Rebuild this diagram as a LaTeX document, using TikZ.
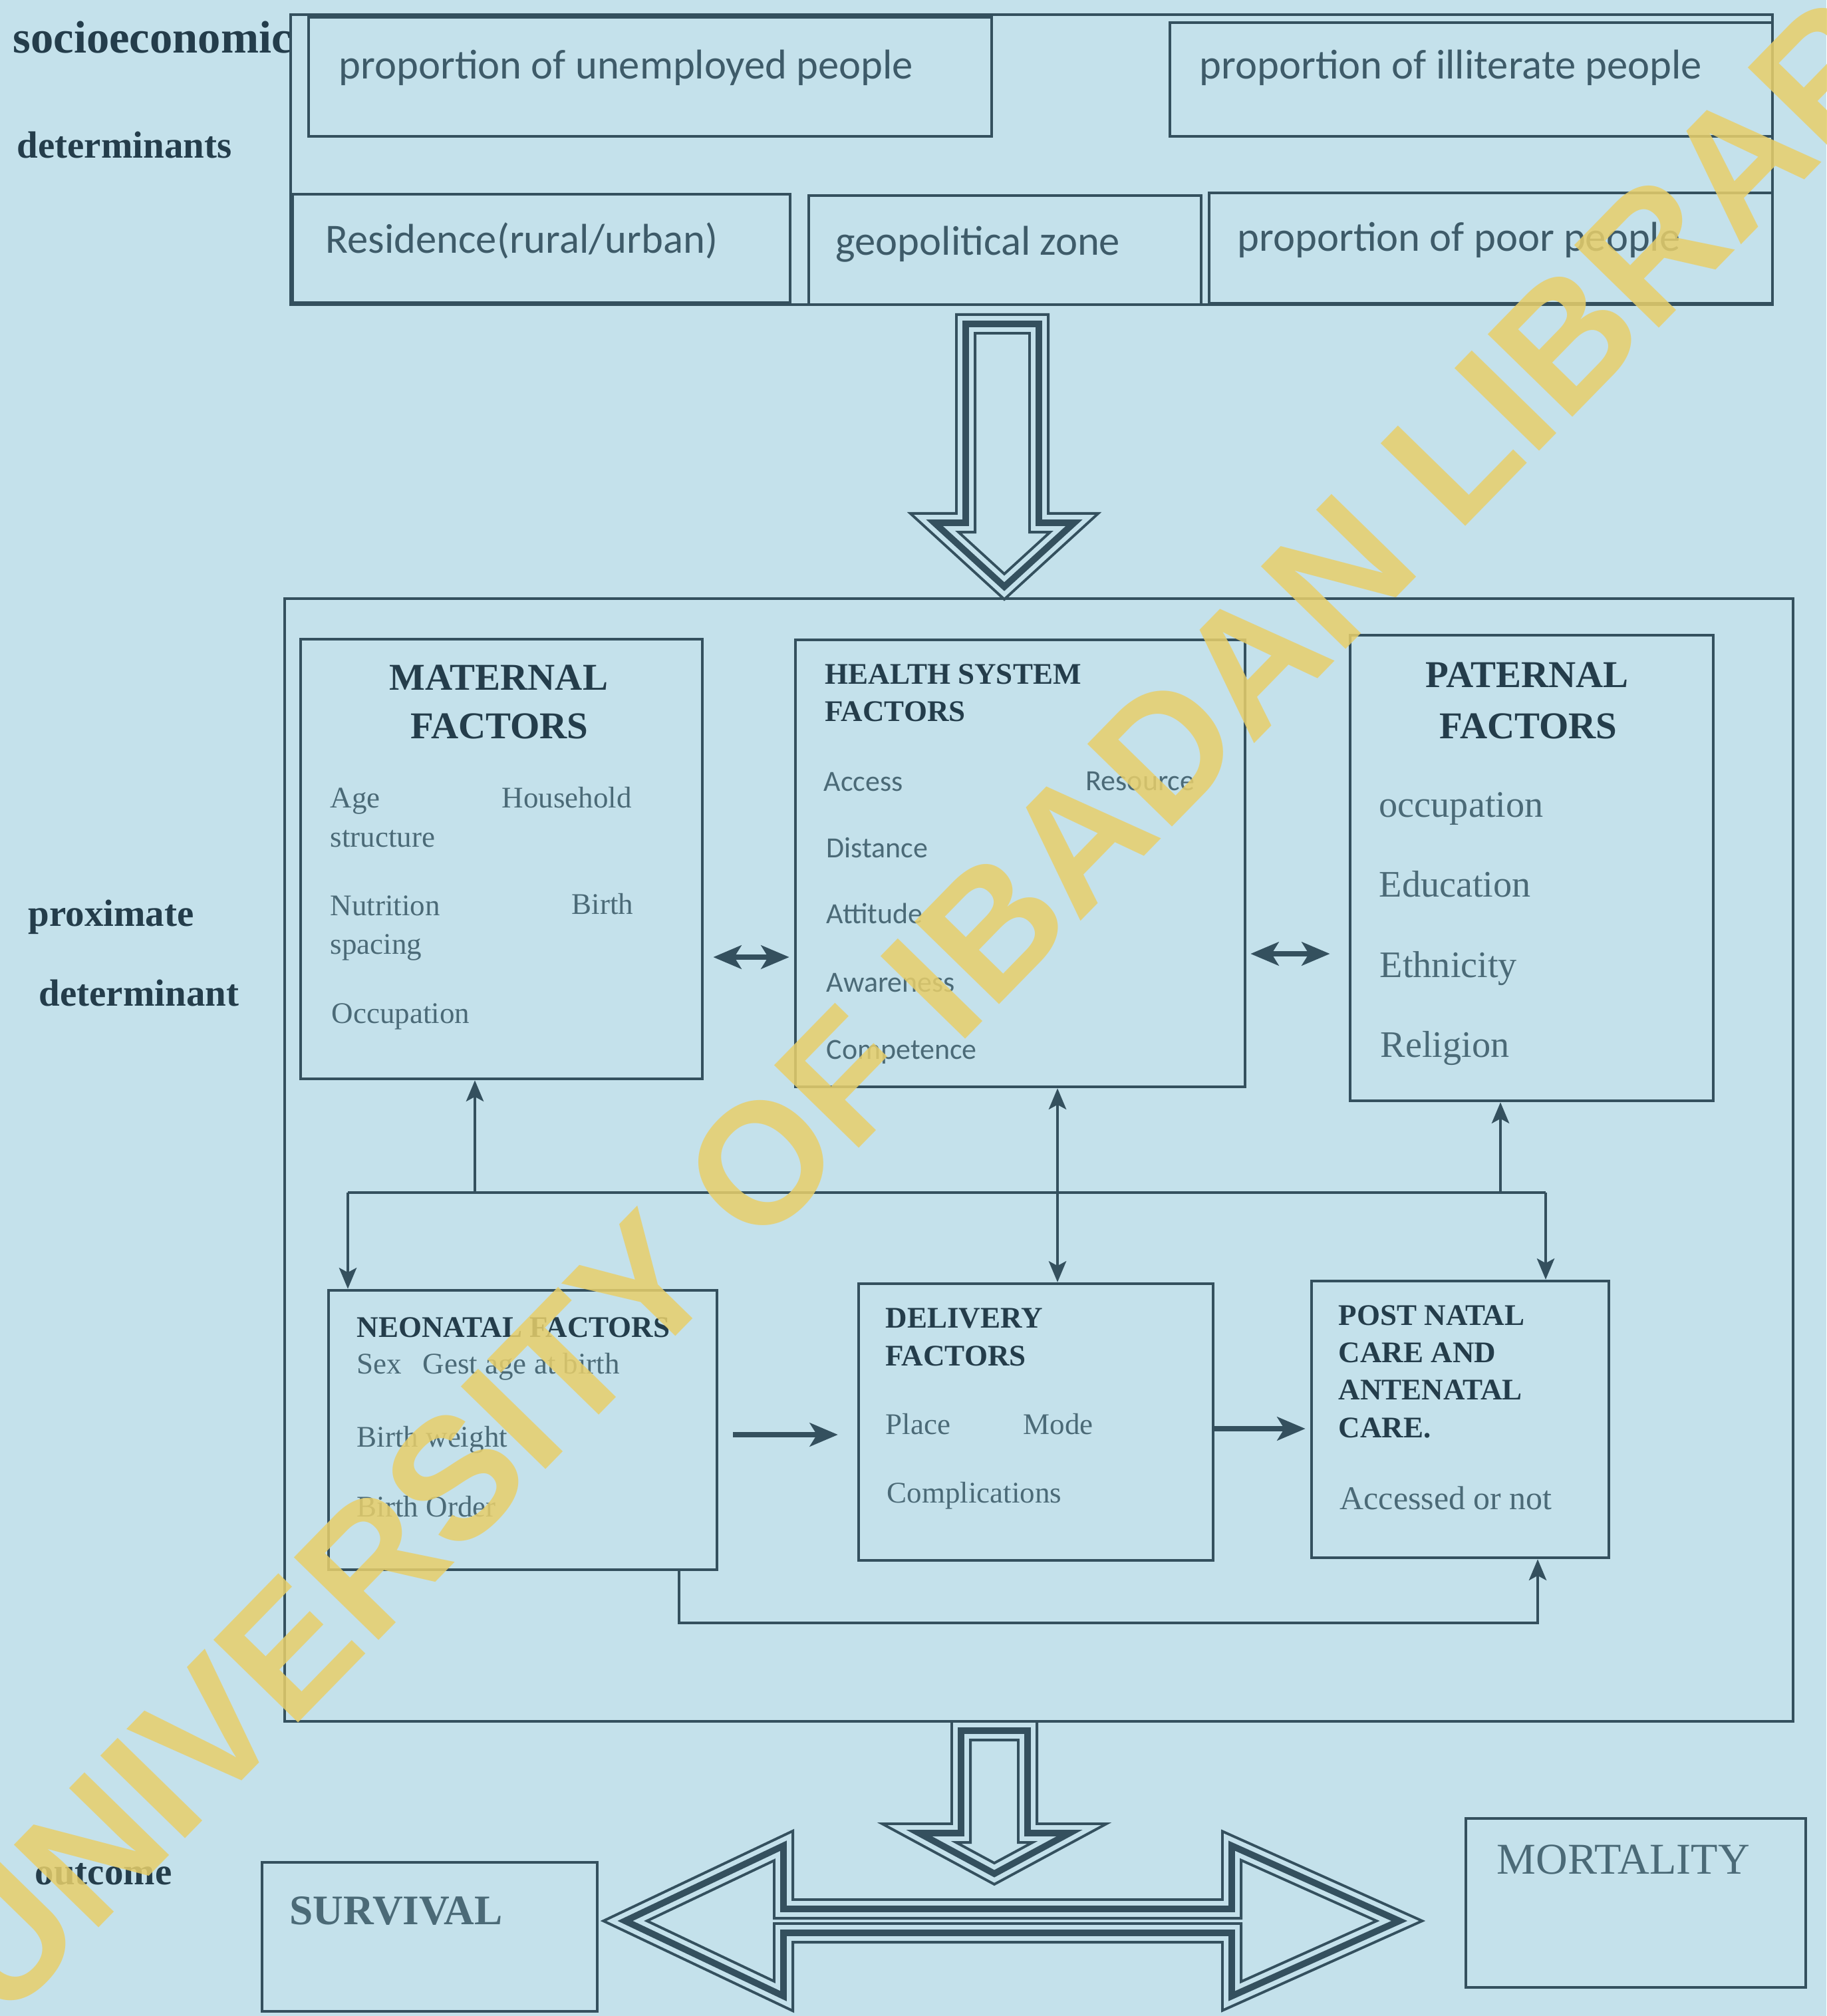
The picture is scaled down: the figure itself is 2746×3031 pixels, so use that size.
\documentclass[tikz,border=0pt]{standalone}
\usepackage{fontspec}
\setmainfont{Liberation Serif}
\newfontfamily\calfont{Carlito}
\newfontfamily\wmfont{Liberation Sans}
\usetikzlibrary{arrows.meta,fit}
\definecolor{bg}{HTML}{C4E1EB}
\definecolor{lc}{HTML}{34505E}
\definecolor{hd}{HTML}{243D4B}
\definecolor{tc}{HTML}{3E5B69}
\definecolor{itc}{HTML}{4B6A77}
\definecolor{wmc}{HTML}{E8CF6A}
\newcommand\fz[1]{\fontsize{#1}{#1}\selectfont}
\tikzset{
  myTri/.tip={Stealth[length=9pt,width=7.5pt,inset=2pt]},
  mySt/.tip={Stealth[length=12pt,width=10pt,inset=3pt]},
}
\begin{document}
\begin{tikzpicture}[x=0.01cm,y=-0.01cm,
  box/.style={draw=lc,line width=1.3pt,inner sep=0pt},
  lab/.style={anchor=base west,inner sep=0pt,text=hd,font=\bfseries\fz{16.2}},
  sans/.style={anchor=base west,inner sep=0pt,text=tc,font=\calfont\fz{17.8}},
  hdg/.style={anchor=base,inner sep=0pt,text=hd,font=\bfseries\fz{16.2}},
  shdg/.style={anchor=base west,inner sep=0pt,text=hd,font=\bfseries\fz{12.8}},
  itm/.style={anchor=base west,inner sep=0pt,text=itc,font=\fz{12.8}},
  sitm/.style={anchor=base west,inner sep=0pt,text=itc,font=\calfont\fz{12.5}},
  pitm/.style={anchor=base west,inner sep=0pt,text=itc,font=\fz{16}},
  conn/.style={draw=lc,line width=1pt},
  dbl/.style={draw=lc,line width=2.2pt,mySt-mySt},
  thk/.style={draw=lc,line width=2.4pt,-mySt},
  fatA/.style={draw=lc,line width=9.1pt,line join=miter},
  fatB/.style={draw=bg,line width=6.8pt,line join=miter},
  fatC/.style={draw=lc,line width=2.8pt,line join=miter},
]
\useasboundingbox (0,0) rectangle (2746,3031);
\clip (0,0) rectangle (2746,3031);
\fill[bg] (0,0) rectangle (2746,3031);

% side labels
\node[lab,font=\bfseries\fz{19.5}] (l1) at (19,80) {socioeconomic};
\node[lab] (l2) at (25,238) {determinants};
\node[lab] (l3) at (42,1392) {proximate};
\node[lab] (l4) at (58,1512) {determinant};
\node[lab] (l5) at (52,2833) {outcome};

% socioeconomic determinants
\node[box,fill=bg,fit={(437,22) (2665,458)}] (sefr) {};
\node[box,fit={(464,26) (1491,205)}] (unemp) {};
\node[box,fit={(1759,34) (2665,205)}] (illit) {};
\node[box,fit={(440,292) (1188,455)}] (resid) {};
\node[box,fit={(1216,294) (1806,458)}] (geo) {};
\node[box,fit={(1818,290) (2665,456)}] (poor) {};
\node[sans] (t1) at (509,119) {proportion of unemployed people};
\node[sans] (t2) at (1803,119) {proportion of illiterate people};
\node[sans] (t3) at (489,381) {Residence(rural/urban)};
\node[sans] (t4) at (1256,384) {geopolitical zone};
\node[sans] (t5) at (1860,378) {proportion of poor people};

% big arrow down
\foreach \s in {fatA,fatB,fatC}{
  \draw[\s] (1452,487) -- (1452,786) -- (1405,786) -- (1510,882) -- (1615,786) -- (1562,786) -- (1562,487) -- cycle;
}

% proximate container
\node[box,fit={(428,900) (2696,2588)}] (prox) {};
\node[box,fit={(452,961) (1056,1622)}] (mat) {};
\node[box,fit={(1196,962) (1872,1634)}] (hs) {};
\node[box,fit={(2030,955) (2576,1655)}] (pat) {};
\node[box,fit={(494,1940) (1078,2360)}] (neo) {};
\node[box,fit={(1291,1930) (1824,2346)}] (del) {};
\node[box,fit={(1972,1926) (2419,2342)}] (pnc) {};

% maternal
\node[hdg] (m1) at (750,1037) {MATERNAL};
\node[hdg] (m2) at (751,1110) {FACTORS};
\node[itm] (m3) at (496,1214) {Age};
\node[itm] (m4) at (754,1214) {Household};
\node[itm] (m5) at (496,1273) {structure};
\node[itm] (m6) at (496,1376) {Nutrition};
\node[itm] (m7) at (859,1374) {Birth};
\node[itm] (m8) at (496,1434) {spacing};
\node[itm] (m9) at (498,1538) {Occupation};

% health system
\node[shdg] (h1) at (1240,1028) {HEALTH SYSTEM};
\node[shdg] (h2) at (1240,1084) {FACTORS};
\node[sitm] (h3) at (1238,1189) {Access};
\node[sitm] (h4) at (1632,1188) {Resource};
\node[sitm] (h5) at (1242,1289) {Distance};
\node[sitm] (h6) at (1242,1388) {Attitude};
\node[sitm] (h7) at (1242,1491) {Awareness};
\node[sitm] (h8) at (1242,1592) {Competence};

% paternal
\node[hdg] (p1) at (2296,1033) {PATERNAL};
\node[hdg] (p2) at (2298,1110) {FACTORS};
\node[pitm] (p3) at (2073,1228) {occupation};
\node[pitm] (p4) at (2073,1348) {Education};
\node[pitm] (p5) at (2074,1469) {Ethnicity};
\node[pitm] (p6) at (2075,1589) {Religion};

% neonatal
\node[shdg] (n1) at (536,2010) {NEONATAL FACTORS};
\node[itm] (n2) at (536,2065) {Sex};
\node[itm] (n3) at (635,2065) {Gest age at birth};
\node[itm] (n4) at (536,2175) {Birth weight};
\node[itm] (n5) at (536,2280) {Birth Order};

% delivery
\node[shdg] (d1) at (1331,1996) {DELIVERY};
\node[shdg] (d2) at (1331,2053) {FACTORS};
\node[itm] (d3) at (1331,2156) {Place};
\node[itm] (d4) at (1538,2156) {Mode};
\node[itm] (d5) at (1333,2259) {Complications};

% post natal
\node[shdg] (q1) at (2012,1992) {POST NATAL};
\node[shdg] (q2) at (2012,2048) {CARE AND};
\node[shdg] (q3) at (2012,2104) {ANTENATAL};
\node[shdg] (q4) at (2012,2161) {CARE.};
\node[itm,font=\fz{14.2}] (q5) at (2014,2269) {Accessed or not};

% connectors
\coordinate (mh) at (0,1439);
\coordinate (hp) at (0,1434);
\draw[dbl,shorten <=4pt,shorten >=2pt] (mat.east |- mh) -- (hs.west |- mh);
\draw[dbl,shorten <=1.7pt,shorten >=8pt] (hs.east |- hp) -- (pat.west |- hp);

\coordinate (busL) at (523,1793);
\coordinate (busR) at (2324,1793);
\coordinate (jm) at (714,1793);
\coordinate (jh) at (1590,1793);
\coordinate (jp) at (2256,1793);
\draw[conn] (busL) -- (busR);
\draw[conn,-myTri] (jm) -- (jm |- mat.south);
\draw[conn,-myTri] (jp) -- (jp |- pat.south);
\draw[conn,-myTri] (busL) -- (busL |- neo.north);
\draw[conn,-myTri] (busR) -- (busR |- pnc.north);
\draw[conn,myTri-myTri] (jh |- hs.south) -- (jh |- del.north);

\coordinate (nd) at (0,2157);
\coordinate (dp) at (0,2148);
\draw[thk,shorten <=6.3pt,shorten >=8.2pt] (neo.east |- nd) -- (del.west |- nd);
\draw[thk,shorten >=2pt] (del.east |- dp) -- (pnc.west |- dp);

\coordinate (lp1) at (1021,2440);
\coordinate (lp2) at (2312,2440);
\draw[conn,-myTri] (lp1 |- neo.south) -- (lp1) -- (lp2) -- (lp2 |- pnc.south);

% lower arrows
\foreach \s in {fatA,fatB,fatC}{
  \draw[\s] (1445,2602) -- (1445,2756) -- (1382,2756) -- (1495,2817) -- (1608,2756) -- (1545,2756) -- (1545,2602) -- cycle;
  \draw[\s] (940,2888) -- (1178,2775) -- (1178,2870) -- (1852,2870) -- (1852,2775) -- (2104,2888) -- (1852,3001) -- (1852,2906) -- (1178,2906) -- (1178,3001) -- cycle;
}

% outcome boxes
\node[box,fit={(394,2800) (898,3024)}] (surv) {};
\node[box,fit={(2204,2734) (2715,2988)}] (mort) {};
\node[anchor=base west,inner sep=0pt,text=itc,font=\bfseries\fz{18}] (s1) at (435,2893) {SURVIVAL};
\node[anchor=base west,inner sep=0pt,text=itc,font=\fz{18.8}] (s2) at (2250,2817) {MORTALITY};

% watermark
\node[rotate=45.7,inner sep=0pt,text=wmc,opacity=0.85,font=\wmfont\bfseries\fz{73.5}] (wm) at (1433,1454) {UNIVERSITY OF IBADAN LIBRARY};
\end{tikzpicture}
\end{document}
